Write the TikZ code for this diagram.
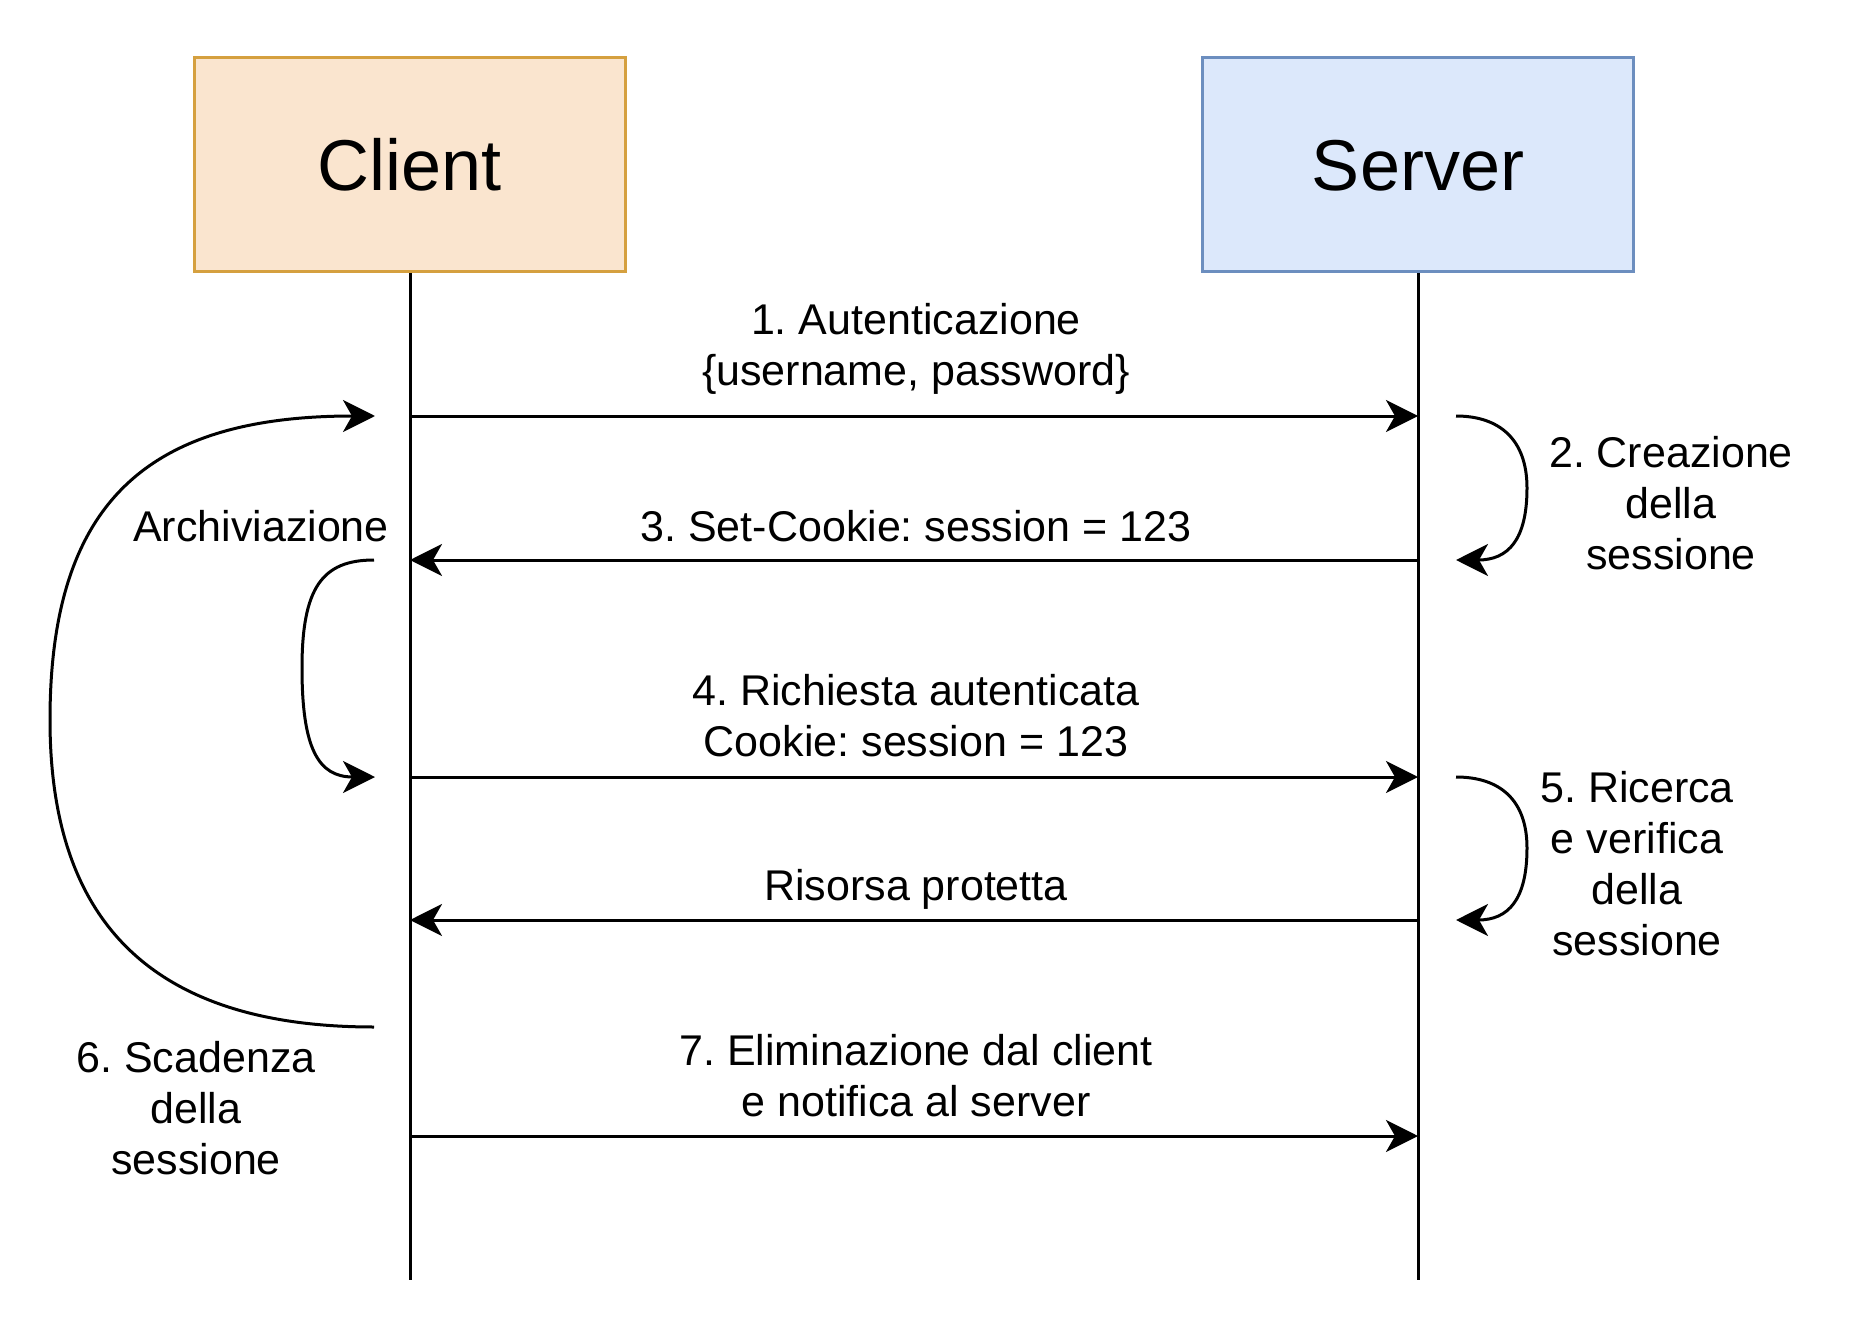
\documentclass[tikz,border=0pt]{standalone}
\usepackage{fontspec}
\setmainfont{Liberation Sans}
\usetikzlibrary{arrows.meta}
\frenchspacing
\newcommand{\lst}{\rule[-7pt]{0pt}{45pt}}
\definecolor{cfill}{HTML}{FAE5CF}
\definecolor{cdraw}{HTML}{D5A03F}
\definecolor{sfill}{HTML}{DCE8FB}
\definecolor{sdraw}{HTML}{6C8EBF}
\begin{document}
\begin{tikzpicture}[x=1pt,y=-1pt,
  actor/.style={draw, line width=3pt, minimum width=431pt, minimum height=214pt, inner sep=0pt,
    font=\fontsize{72}{86}\selectfont, text height=51.5pt, text depth=0pt},
  life/.style={line width=3pt},
  msg/.style={line width=3pt, -{Stealth[length=32pt,width=32pt,inset=9pt]}},
  lbl/.style={font=\fontsize{43}{51}\selectfont\frenchspacing, align=center, inner sep=0pt}]
\fill[white] (0,0) rectangle (1858,1324);
\useasboundingbox (0,0) rectangle (1858,1324);

\node[actor, fill=cfill, draw=cdraw] (client) at (410,164.5) {Client};
\node[actor, fill=sfill, draw=sdraw] (server) at (1418,164.5) {Server};
\coordinate (cbot) at (410,1280);
\coordinate (sbot) at (1418,1280);
\draw[life] (client.south) -- (cbot);
\draw[life] (server.south) -- (sbot);

% message end points
\coordinate (c1) at (410,416);  \coordinate (s1) at (1418,416);
\coordinate (c3) at (410,560);  \coordinate (s3) at (1418,560);
\coordinate (c4) at (410,777);  \coordinate (s4) at (1418,777);
\coordinate (cr) at (410,920);  \coordinate (sr) at (1418,920);
\coordinate (c7) at (410,1136); \coordinate (s7) at (1418,1136);

\draw[msg] (c1) -- (s1);
\draw[msg] (s3) -- (c3);
\draw[msg] (c4) -- (s4);
\draw[msg] (sr) -- (cr);
\draw[msg] (c7) -- (s7);

% labels
\node[lbl] (l1) at (916,345) {\lst 1. Autenticazione\\\lst \{username, password\}};
\node[lbl] (l3) at (916,526) {\lst 3. Set-Cookie: session = 123};
\node[lbl] (l4) at (916,715) {\lst 4. Richiesta autenticata\\\lst Cookie: session = 123};
\node[lbl] (lr) at (916,886) {\lst Risorsa protetta};
\node[lbl] (l7) at (916,1075) {\lst 7. Eliminazione dal client\\\lst e notifica al server};
\node[lbl] (l2) at (1671,503) {\lst 2. Creazione\\\lst della\\\lst sessione};
\node[lbl] (l5) at (1637,863) {\lst 5. Ricerca\\\lst e verifica\\\lst della\\\lst sessione};
\node[lbl] (la) at (261,526) {\lst Archiviazione};
\node[lbl] (l6) at (196,1108) {\lst 6. Scadenza\\\lst della\\\lst sessione};

% self/loop curves
\coordinate (b6s) at (374,1027); \coordinate (b6e) at (375,416);
\draw[msg] (b6s) .. controls (150,1027) and (50,920) .. (50,720)
  .. controls (50,500) and (150,416) .. (b6e);

\coordinate (bas) at (374,560); \coordinate (bae) at (375,777);
\draw[msg] (bas) .. controls (322,560) and (302,588) .. (302,668)
  .. controls (302,748) and (318,777) .. (bae);

\coordinate (b2s) at (1456,416); \coordinate (b2e) at (1456,560);
\draw[msg] (b2s) .. controls (1500,416) and (1527,440) .. (1527,488)
  .. controls (1527,540) and (1508,560) .. (b2e);

\coordinate (b5s) at (1456,777); \coordinate (b5e) at (1456,920);
\draw[msg] (b5s) .. controls (1500,777) and (1527,800) .. (1527,848)
  .. controls (1527,900) and (1508,920) .. (b5e);
\end{tikzpicture}
\end{document}
